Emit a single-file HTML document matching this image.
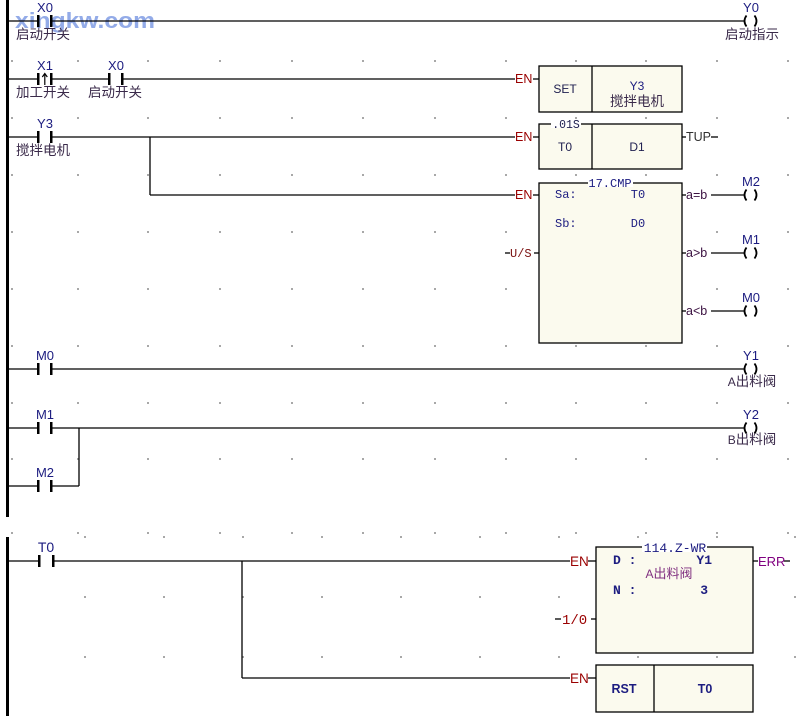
<!DOCTYPE html>
<html><head><meta charset="utf-8"><style>
html,body{margin:0;padding:0;background:#fff;}
svg{display:block;}
text{font-family:"Liberation Sans","Noto Sans CJK SC",sans-serif;}
.lb{fill:#1c1c80;font-size:13px;}
.cm{fill:#3a2a4a;font-size:13.5px;font-family:"Noto Sans CJK SC",sans-serif;}
.en{fill:#9a0000;font-size:12.5px;}
.mono{font-family:"Liberation Mono","Noto Sans CJK SC",monospace;}
.op{fill:#3a1040;font-size:12.5px;}
</style></head><body>
<svg width="797" height="716" viewBox="0 0 797 716" xmlns="http://www.w3.org/2000/svg">
<rect width="797" height="716" fill="#fff"/>
<g fill="#a8a8a8">
<g id="row">
<rect x="11" y="60" width="2" height="2"/><rect x="77" y="60" width="2" height="2"/><rect x="147" y="60" width="2" height="2"/><rect x="219" y="60" width="2" height="2"/><rect x="291" y="60" width="2" height="2"/><rect x="362" y="60" width="2" height="2"/><rect x="434" y="60" width="2" height="2"/><rect x="505" y="60" width="2" height="2"/><rect x="575" y="60" width="2" height="2"/><rect x="645" y="60" width="2" height="2"/><rect x="716" y="60" width="2" height="2"/><rect x="787" y="60" width="2" height="2"/>
</g>
<use href="#row" y="57"/><use href="#row" y="114"/><use href="#row" y="171"/><use href="#row" y="228"/><use href="#row" y="285"/><use href="#row" y="342"/><use href="#row" y="398"/><use href="#row" y="472"/>
<g id="row2">
<rect x="84" y="536" width="2" height="2"/><rect x="163" y="536" width="2" height="2"/><rect x="242" y="536" width="2" height="2"/><rect x="321" y="536" width="2" height="2"/><rect x="400" y="536" width="2" height="2"/><rect x="479" y="536" width="2" height="2"/><rect x="558" y="536" width="2" height="2"/><rect x="637" y="536" width="2" height="2"/><rect x="716" y="536" width="2" height="2"/><rect x="794" y="536" width="2" height="2"/>
</g>
<use href="#row2" y="60"/><use href="#row2" y="120"/>
</g>

<text x="15" y="28" font-size="22" font-weight="bold" fill="#6f8fe0" fill-opacity="0.75" textLength="140" lengthAdjust="spacingAndGlyphs">xingkw.com</text>

<rect x="6" y="0" width="3" height="517" fill="#000"/>
<rect x="6" y="537" width="3" height="179" fill="#000"/>

<g stroke="#000" stroke-width="1.3" fill="none">
<line x1="9" y1="21" x2="38" y2="21"/><line x1="52" y1="21" x2="744" y2="21"/>
<line x1="9" y1="79" x2="38" y2="79"/><line x1="52" y1="79" x2="109" y2="79"/><line x1="123" y1="79" x2="515" y2="79"/><line x1="533" y1="79" x2="539" y2="79"/>
<line x1="9" y1="137" x2="38" y2="137"/><line x1="52" y1="137" x2="515" y2="137"/><line x1="533" y1="137" x2="539" y2="137"/>
<line x1="150" y1="137" x2="150" y2="195"/><line x1="150" y1="195" x2="515" y2="195"/><line x1="533" y1="195" x2="539" y2="195"/>
<line x1="505" y1="253" x2="510" y2="253"/><line x1="534" y1="253" x2="539" y2="253"/>
<line x1="682" y1="137" x2="686" y2="137"/><line x1="711" y1="137" x2="718" y2="137"/>
<line x1="682" y1="195" x2="686" y2="195"/><line x1="711" y1="195" x2="744" y2="195"/>
<line x1="682" y1="253" x2="686" y2="253"/><line x1="711" y1="253" x2="744" y2="253"/>
<line x1="682" y1="311" x2="686" y2="311"/><line x1="711" y1="311" x2="744" y2="311"/>
<line x1="9" y1="369" x2="38" y2="369"/><line x1="52" y1="369" x2="744" y2="369"/>
<line x1="9" y1="428" x2="38" y2="428"/><line x1="52" y1="428" x2="744" y2="428"/>
<line x1="9" y1="486" x2="38" y2="486"/><line x1="52" y1="486" x2="79" y2="486"/><line x1="79" y1="428" x2="79" y2="486"/>
<line x1="9" y1="561" x2="39" y2="561"/><line x1="54" y1="561" x2="570" y2="561"/><line x1="588" y1="561" x2="596" y2="561"/>
<line x1="555" y1="619" x2="561" y2="619"/><line x1="591" y1="619" x2="596" y2="619"/>
<line x1="753" y1="561" x2="758" y2="561"/><line x1="784" y1="561" x2="790" y2="561"/>
<line x1="242" y1="561" x2="242" y2="678"/><line x1="242" y1="678" x2="570" y2="678"/><line x1="588" y1="678" x2="596" y2="678"/>
</g>

<g fill="#000">
<rect x="37" y="15" width="2.5" height="12"/><rect x="50" y="15" width="2.5" height="12"/>
<rect x="37" y="73" width="2.5" height="12"/><rect x="50" y="73" width="2.5" height="12"/>
<rect x="108" y="73" width="2.5" height="12"/><rect x="121" y="73" width="2.5" height="12"/>
<rect x="37" y="131" width="2.5" height="12"/><rect x="50" y="131" width="2.5" height="12"/>
<rect x="37" y="363" width="2.5" height="12"/><rect x="50" y="363" width="2.5" height="12"/>
<rect x="37" y="422" width="2.5" height="12"/><rect x="50" y="422" width="2.5" height="12"/>
<rect x="37" y="480" width="2.5" height="12"/><rect x="50" y="480" width="2.5" height="12"/>
<rect x="38" y="555" width="2.5" height="12"/><rect x="52" y="555" width="2.5" height="12"/>
</g>
<g stroke="#000" stroke-width="1.2" fill="none"><line x1="44.8" y1="74" x2="44.8" y2="85"/><polyline points="42.3,77 44.8,73.5 47.3,77"/></g>

<g stroke="#000" stroke-width="1.8" fill="none">
<g id="coil"><path d="M746.5,15.5 Q742.5,21 746.5,26.5"/><path d="M754.5,15.5 Q758.5,21 754.5,26.5"/></g>
<use href="#coil" y="174"/><use href="#coil" y="232"/><use href="#coil" y="290"/><use href="#coil" y="348"/><use href="#coil" y="407"/>
</g>

<g fill="#fbfaee" stroke="#000" stroke-width="1.3">
<rect x="539" y="66" width="143" height="46"/>
<rect x="539" y="124" width="143" height="45"/>
<rect x="539" y="183" width="143" height="160"/>
<rect x="596" y="547" width="157" height="106"/>
<rect x="596" y="665" width="157" height="47"/>
</g>
<g stroke="#000" stroke-width="1.3">
<line x1="592" y1="66" x2="592" y2="112"/>
<line x1="592" y1="124" x2="592" y2="169"/>
<line x1="654" y1="665" x2="654" y2="712"/>
</g>
<rect x="551" y="119" width="30" height="9" fill="#fff"/>
<rect x="588" y="177" width="45" height="10" fill="#fff"/>
<rect x="642" y="541" width="65" height="11" fill="#fff"/>

<g class="lb" text-anchor="middle">
<text x="45" y="12">X0</text>
<text x="45" y="70">X1</text>
<text x="116" y="70">X0</text>
<text x="45" y="128">Y3</text>
<text x="45" y="360">M0</text>
<text x="45" y="419">M1</text>
<text x="45" y="477">M2</text>
<text x="46" y="552" font-size="14">T0</text>
<text x="751" y="12">Y0</text>
<text x="751" y="186">M2</text>
<text x="751" y="244">M1</text>
<text x="751" y="302">M0</text>
<text x="751" y="360">Y1</text>
<text x="751" y="419">Y2</text>
<text x="637" y="90" font-size="12">Y3</text>
</g>
<g class="cm">
<text x="16" y="39">启动开关</text>
<text x="16" y="97">加工开关</text>
<text x="88" y="97">启动开关</text>
<text x="16" y="155">搅拌电机</text>
<text x="752" y="39" text-anchor="middle">启动指示</text>
<text x="752" y="386" text-anchor="middle"><tspan style="font-family:'Liberation Sans',sans-serif;font-size:12px">A</tspan>出料阀</text>
<text x="752" y="444" text-anchor="middle"><tspan style="font-family:'Liberation Sans',sans-serif;font-size:12px">B</tspan>出料阀</text>
<text x="637" y="106" text-anchor="middle">搅拌电机</text>
</g>

<g class="en">
<text x="515" y="83">EN</text>
<text x="515" y="141">EN</text>
<text x="515" y="199">EN</text>
<text x="510" y="257" class="mono" font-size="12" fill="#7a1010">U/S</text>
<text x="570" y="566" font-size="13.5">EN</text>
<text x="570" y="683" font-size="13.5">EN</text>
<text x="562" y="624" class="mono" font-size="14">1/0</text>
</g>

<g fill="#1c1c80" font-size="12">
<text x="565" y="93" text-anchor="middle" fill="#202050">SET</text>
<text x="566" y="128" text-anchor="middle" class="mono" font-size="11.5" fill="#202050">.01S</text>
<text x="565" y="151" text-anchor="middle" fill="#202050">T0</text>
<text x="637" y="151" text-anchor="middle" fill="#202050">D1</text>
<text x="610" y="187" text-anchor="middle" class="mono" font-size="12">17.CMP</text>
<text x="555" y="198" class="mono">Sa:</text>
<text x="638" y="198" text-anchor="middle" class="mono">T0</text>
<text x="555" y="227" class="mono">Sb:</text>
<text x="638" y="227" text-anchor="middle" class="mono">D0</text>
<text x="675" y="552" text-anchor="middle" class="mono" font-size="13">114.Z-WR</text>
<text x="613" y="564" class="mono" font-size="13" font-weight="bold">D :</text>
<text x="712" y="564" text-anchor="end" class="mono" font-size="13" font-weight="bold">Y1</text>
<text x="669" y="578" text-anchor="middle" fill="#803080" font-size="13" style="font-family:'Noto Sans CJK SC',sans-serif"><tspan style="font-family:'Liberation Sans',sans-serif;font-size:12px">A</tspan>出料阀</text>
<text x="613" y="594" class="mono" font-size="13" font-weight="bold">N :</text>
<text x="708" y="594" text-anchor="end" class="mono" font-size="13" font-weight="bold">3</text>
<text x="624" y="693" text-anchor="middle" font-size="12.5" font-weight="bold">RST</text>
<text x="705" y="693" text-anchor="middle" font-size="12.5" font-weight="bold">T0</text>
</g>

<g class="op">
<text x="686" y="141" fill="#303030">TUP</text>
<text x="686" y="199">a=b</text>
<text x="686" y="257">a&gt;b</text>
<text x="686" y="315">a&lt;b</text>
<text x="758" y="566" fill="#800080" font-size="13">ERR</text>
</g>
</svg>
</body></html>
